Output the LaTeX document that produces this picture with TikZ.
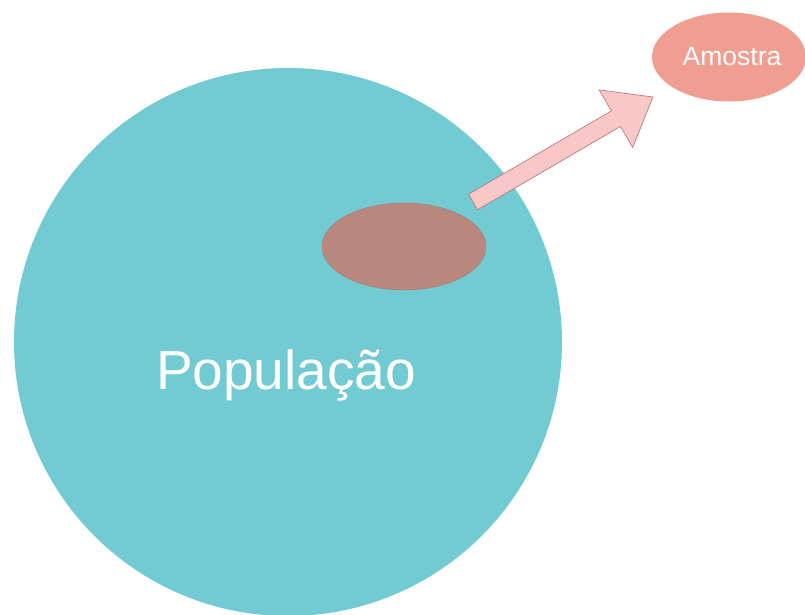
\documentclass[tikz,border=0pt]{standalone}
\usepackage{fontspec}
\setmainfont{Liberation Sans}
\usetikzlibrary{shapes.geometric}
\definecolor{popcol}{RGB}{114,203,210}
\definecolor{subcol}{RGB}{184,135,125}
\definecolor{amocol}{RGB}{241,158,146}
\definecolor{arrfill}{RGB}{248,200,200}
\definecolor{arrdraw}{RGB}{176,112,112}
\tikzset{
  blob/.style={ellipse, inner sep=0pt, draw=none},
}
\begin{document}
\begin{tikzpicture}[x=1pt,y=-1pt]
\useasboundingbox (0,0) rectangle (805,614);
\clip (0,0) rectangle (805,614);
\fill[white] (0,0) rectangle (805,614);
% population circle
\node[circle, fill=popcol, minimum size=548pt, inner sep=0pt] (pop) at (288,342) {};
\node[text=white, font=\fontsize{55}{55}\selectfont, anchor=base] (poplabel) at (286,389) {População};
% sample ellipse inside
\node[blob, fill=subcol, draw=subcol!90!black, line width=0.4pt, minimum width=164pt, minimum height=87pt] (sub) at (404,246.5) {};
% Amostra ellipse
\node[blob, fill=amocol, minimum width=154pt, minimum height=89pt] (amo) at (729,57) {};
\node[text=white, font=\fontsize{26.5}{26.5}\selectfont, anchor=base] (amolabel) at (732,65) {Amostra};
% block arrow
\coordinate (tail) at (473,202);
\coordinate (tip) at (653,97);
\draw[fill=arrfill, draw=arrdraw, line width=0.6pt, line join=miter]
  (477.5,209.8) -- (620.4,126.5) -- (632.7,147.5) -- (tip)
  -- (599.1,89.9) -- (611.4,110.9) -- (468.5,194.2) -- cycle;
\end{tikzpicture}
\end{document}
